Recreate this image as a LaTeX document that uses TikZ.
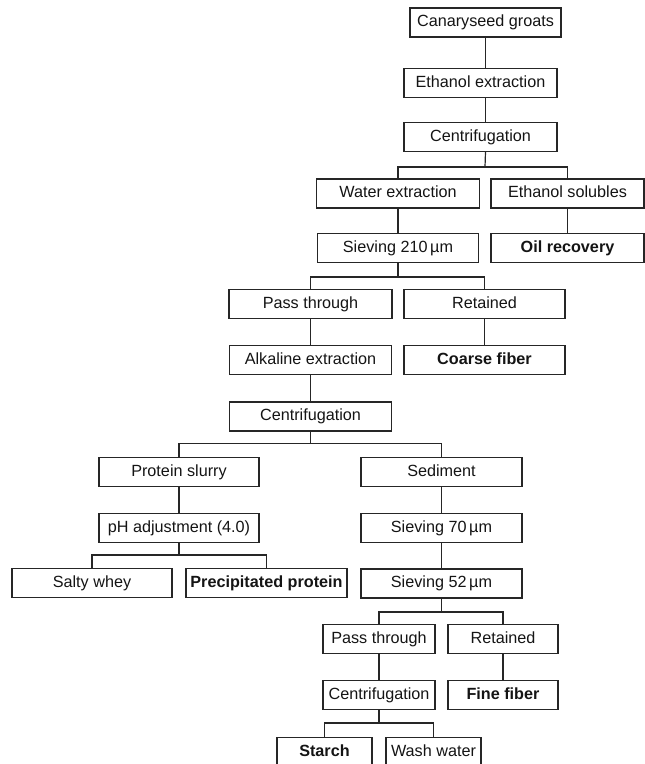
\documentclass[tikz,border=0pt]{standalone}
\usepackage{fontspec}
\setmainfont{Liberation Sans}
\begin{document}
\begin{tikzpicture}[x=1pt,y=-1pt,
  box/.style={draw=black!85, line width=1.3pt, minimum height=29pt, inner sep=0pt,
    font=\fontsize{16.2}{19}\selectfont, text height=11.7pt, text depth=3.3pt, text=black!92},
  bbox/.style={box, font=\fontsize{16.2}{19}\selectfont\bfseries},
  link/.style={draw=black!85, line width=1.2pt}]
\clip (0,0) rectangle (645,764);
% nodes
\node[box, minimum width=151pt] (cg) at (485.5,22.5) {Canaryseed groats};
\node[box, minimum width=153pt] (ee) at (480.5,83) {Ethanol extraction};
\node[box, minimum width=153pt] (cf1) at (480.5,137) {Centrifugation};
\node[box, minimum width=163pt] (we) at (398,193.5) {Water extraction};
\node[box, minimum width=153pt] (es) at (567.5,193.5) {Ethanol solubles};
\node[box, minimum width=161pt] (s210) at (398,248) {Sieving 210\,µm};
\node[bbox, minimum width=153pt] (oil) at (567.5,248) {Oil recovery};
\node[box, minimum width=163pt] (pt1) at (310.5,304) {Pass through};
\node[box, minimum width=161pt] (ret1) at (484.5,304) {Retained};
\node[box, minimum width=162pt] (alk) at (310.5,360) {Alkaline extraction};
\node[bbox, minimum width=161pt] (coarse) at (484.5,360) {Coarse fiber};
\node[box, minimum width=162pt] (cf2) at (310.5,416.5) {Centrifugation};
\node[box, minimum width=160pt] (ps) at (179,472) {Protein slurry};
\node[box, minimum width=161pt] (sed) at (441.5,472) {Sediment};
\node[box, minimum width=160pt] (ph) at (179,528) {pH adjustment (4.0)};
\node[box, minimum width=161pt] (s70) at (441.5,528) {Sieving 70\,µm};
\node[box, minimum width=160pt] (sw) at (92,583) {Salty whey};
\node[bbox, minimum width=161pt] (pp) at (266.5,583) {Precipitated protein};
\node[box, minimum width=161pt] (s52) at (441.5,583.5) {Sieving 52\,µm};
\node[box, minimum width=112pt] (pt2) at (379,639) {Pass through};
\node[box, minimum width=110pt] (ret2) at (503,639) {Retained};
\node[box, minimum width=112pt] (cf3) at (379,695) {Centrifugation};
\node[bbox, minimum width=110pt] (ff) at (503,695) {Fine fiber};
\node[bbox, minimum width=95pt] (st) at (324.5,752) {Starch};
\node[box, minimum width=95pt] (ww) at (433.5,752) {Wash water};
% connectors
\draw[link] (cg.south) -- (cg.south |- ee.north);
\draw[link] (cg.south |- ee.south) -- (cg.south |- cf1.north);
\coordinate (j1) at (485,167);
\draw[link] (cg.south |- cf1.south) -- (j1);
\draw[link] (we.north) |- (j1) -| (es.north);
\draw[link] (we.south) -- (s210.north);
\draw[link] (es.south) -- (oil.north);
\coordinate (j2) at (398,277);
\draw[link] (s210.south) -- (j2);
\draw[link] (pt1.north) |- (j2) -| (ret1.north);
\draw[link] (pt1.south) -- (alk.north);
\draw[link] (ret1.south) -- (coarse.north);
\draw[link] (alk.south) -- (cf2.north);
\coordinate (j3) at (310.5,443.5);
\draw[link] (cf2.south) -- (j3);
\draw[link] (ps.north) |- (j3) -| (sed.north);
\draw[link] (ps.south) -- (ph.north);
\draw[link] (sed.south) -- (s70.north);
\draw[link] (s70.south) -- (s52.north);
\coordinate (j4) at (179,555);
\draw[link] (ph.south) -- (j4);
\draw[link] (sw.north) |- (j4) -| (pp.north);
\coordinate (j5) at (441.5,612);
\draw[link] (s52.south) -- (j5);
\draw[link] (pt2.north) |- (j5) -| (ret2.north);
\draw[link] (pt2.south) -- (cf3.north);
\draw[link] (ret2.south) -- (ff.north);
\coordinate (j6) at (379,723);
\draw[link] (cf3.south) -- (j6);
\draw[link] (st.north) |- (j6) -| (ww.north);
\end{tikzpicture}
\end{document}
